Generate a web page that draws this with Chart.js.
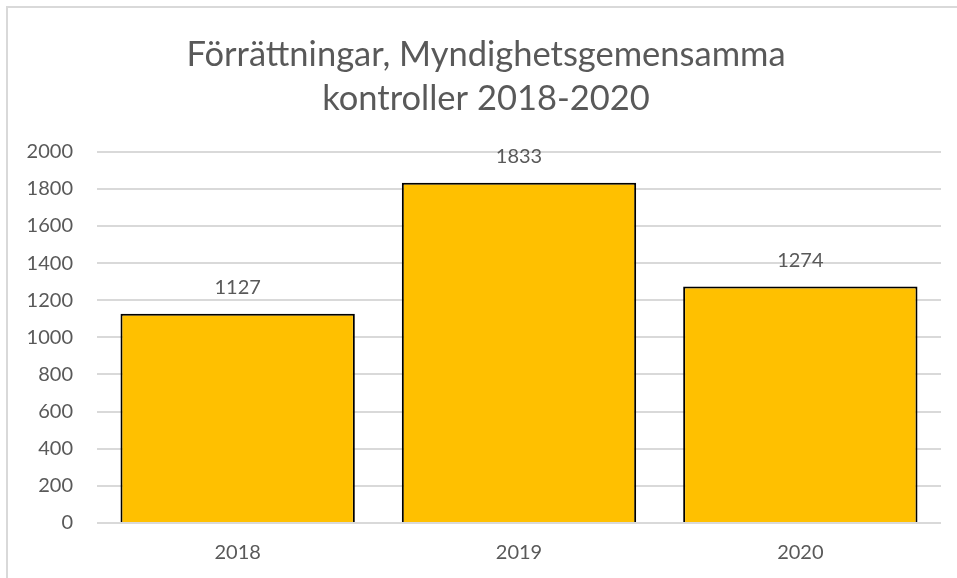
<!DOCTYPE html>
<html>
<head>
<meta charset="utf-8">
<script src="https://cdn.jsdelivr.net/npm/chart.js@4"></script>
<style>
    html, body { margin: 0; padding: 0; background: #fff; }
    #wrap { position: relative; width: 957px; height: 578px; }
    #frame { position: absolute; left: 6px; top: 6px; right: -2px; bottom: -2px; border-top: 2px solid #d9d9d9; border-left: 2px solid #d9d9d9; }
    canvas { position: absolute; left: 0; top: 0; }
</style>
</head>
<body>
<div id="wrap">
    <div id="frame"></div>
    <canvas id="chart" width="957" height="578"></canvas>
</div>
<script>
// Data
const years = ['2018', '2019', '2020'];
const forrattningar = [1127, 1833, 1274];
const titleLines = ['Förrättningar, Myndighetsgemensamma', 'kontroller 2018-2020'];

const FONT = "Lato, 'Open Sans', sans-serif";
const TEXT = '#595959';

// etiketter ovanför staplarna
const valueLabels = {
    id: 'valueLabels',
    afterDatasetsDraw(chart) {
        const ctx = chart.ctx;
        const meta = chart.getDatasetMeta(0);
        ctx.save();
        ctx.font = '20px ' + FONT;
        ctx.fillStyle = TEXT;
        ctx.textAlign = 'center';
        ctx.textBaseline = 'middle';
        meta.data.forEach((bar, i) => {
            ctx.fillText(String(forrattningar[i]), bar.x, bar.y - 26);
        });
        ctx.restore();
    }
};

// titeln centreras över hela ramen, inte bara över ritytan
const titleShift = {
    id: 'titleShift',
    afterLayout(chart) {
        if (chart.titleBlock) chart.titleBlock.left += 18;
    }
};

const ctx = document.getElementById('chart').getContext('2d');
new Chart(ctx, {
    type: 'bar',
    data: {
        labels: years,
        datasets: [{
            data: forrattningar,
            backgroundColor: '#FFC000',
            borderColor: '#000000',
            borderWidth: 2,
            borderSkipped: 'bottom',
            categoryPercentage: 0.833,
            barPercentage: 1
        }]
    },
    options: {
        responsive: false,
        animation: false,
        layout: { padding: { left: 13, right: 16, top: 32, bottom: -5 } },
        plugins: {
            legend: { display: false },
            tooltip: { enabled: false },
            title: {
                display: true,
                text: titleLines,
                color: TEXT,
                font: { family: FONT, size: 34.5, weight: 'normal', lineHeight: 1.3 },
                padding: { top: 0, bottom: 30 }
            }
        },
        scales: {
            x: {
                grid: { display: false, drawTicks: false },
                border: { display: false },
                ticks: { color: TEXT, font: { family: FONT, size: 20 }, padding: 18 }
            },
            y: {
                min: 0,
                max: 2000,
                ticks: { stepSize: 200, color: TEXT, font: { family: FONT, size: 20 }, padding: 24, callback: v => String(v) },
                grid: { color: '#d9d9d9', lineWidth: 2, drawTicks: false },
                border: { display: false },
                afterFit: scale => { scale.width = 84; }
            }
        }
    },
    plugins: [valueLabels, titleShift]
});
</script>
</body>
</html>
